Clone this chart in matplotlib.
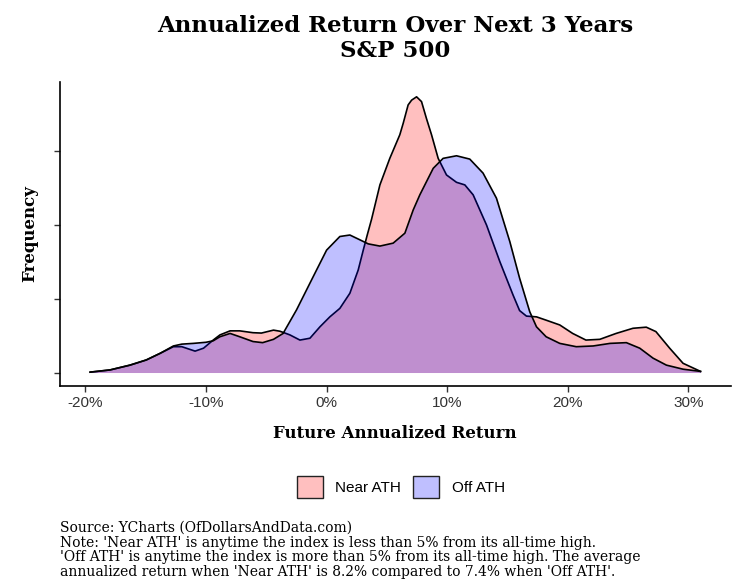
import matplotlib.pyplot as plt
from matplotlib.patches import Patch

# values (x in %, density; y ticks sit at 0, 2, 4, 6)
near_x = [-19.6, -17.95, -16.3, -14.95, -13.8, -12.7, -12.0, -10.9, -10.2, -9.4,
          -8.84, -8.0, -7.2, -6.1, -5.4, -4.4, -3.87, -3.45, -3.04, -2.21,
          -1.38, -0.55, 0.27, 1.1, 1.93, 2.62, 3.04, 3.37, 3.73, 4.42,
          5.24, 6.07, 6.35, 6.76, 7.05, 7.46, 7.87, 8.28, 8.7, 9.25,
          9.94, 10.77, 11.46, 12.15, 13.26, 14.36, 15.46, 16.0, 16.57, 17.0,
          17.4, 18.2, 19.33, 20.4, 21.5, 22.65, 24.0, 25.4, 26.5, 27.3,
          28.44, 29.55, 31.0]
near_y = [0.01, 0.07, 0.20, 0.34, 0.52, 0.70, 0.70, 0.58, 0.66, 0.88,
          1.02, 1.13, 1.13, 1.08, 1.07, 1.15, 1.12, 1.07, 1.02, 0.88,
          0.93, 1.24, 1.51, 1.74, 2.15, 2.78, 3.32, 3.73, 4.16, 5.09,
          5.81, 6.45, 6.76, 7.26, 7.39, 7.48, 7.35, 6.89, 6.45, 5.81,
          5.36, 5.16, 5.09, 4.82, 4.00, 3.01, 2.10, 1.68, 1.53, 1.52,
          1.51, 1.42, 1.29, 1.06, 0.88, 0.90, 1.06, 1.20, 1.23, 1.11,
          0.66, 0.25, 0.03]

off_x = [-19.6, -17.95, -16.3, -14.95, -13.8, -12.7, -12.0, -11.05, -10.0, -9.4,
         -8.84, -8.0, -7.2, -6.1, -5.3, -4.4, -3.6, -3.45, -2.49, -1.11,
         0.0, 1.1, 1.93, 2.76, 3.45, 4.42, 5.52, 6.49, 7.18, 7.73,
         8.84, 9.66, 10.77, 11.87, 12.97, 14.08, 15.19, 16.0, 16.84, 17.4,
         18.2, 19.33, 20.7, 22.1, 23.5, 24.85, 25.96, 27.06, 28.17, 29.55,
         31.0]
off_y = [0.01, 0.07, 0.20, 0.34, 0.52, 0.72, 0.77, 0.79, 0.82, 0.86,
         0.97, 1.06, 0.97, 0.84, 0.81, 0.90, 1.06, 1.15, 1.70, 2.60,
         3.32, 3.69, 3.73, 3.60, 3.49, 3.43, 3.51, 3.78, 4.41, 4.82,
         5.54, 5.81, 5.88, 5.79, 5.41, 4.73, 3.55, 2.56, 1.65, 1.24,
         0.97, 0.79, 0.70, 0.72, 0.79, 0.81, 0.66, 0.39, 0.20, 0.09,
         0.03]

x_ticks = [-20, -10, 0, 10, 20, 30]
x_labels = ["-20%", "-10%", "0%", "10%", "20%", "30%"]
y_ticks = [0, 2, 4, 6]

series = [("Near ATH", near_x, near_y, "red", (1, 0.75, 0.75)),
          ("Off ATH", off_x, off_y, "blue", (0.75, 0.75, 1))]

caption = ("Source: YCharts (OfDollarsAndData.com)\n"
           "Note: 'Near ATH' is anytime the index is less than 5% from its all-time high.\n"
           "'Off ATH' is anytime the index is more than 5% from its all-time high. The average\n"
           "annualized return when 'Near ATH' is 8.2% compared to 7.4% when 'Off ATH'.")

W, H = 755, 583
fig = plt.figure(figsize=(W / 100, H / 100), dpi=100)
ax = fig.add_axes([60 / W, 1 - 386 / H, (730.7 - 60) / W, (386 - 81.7) / H])

z = 1
for name, xs, ys, col, _ in series:
    ax.fill_between(xs, 0, ys, color=col, alpha=0.25, lw=0, zorder=z)
    ax.plot(xs, ys, color="black", lw=1.2, zorder=z + 0.5, solid_joinstyle="round")
    z += 1

ax.set_xlim(-22.1, 33.5)
ax.set_ylim(-0.366, 7.89)
ax.set_xticks(x_ticks)
ax.set_xticklabels(x_labels)
ax.set_yticks(y_ticks)
ax.set_yticklabels([])
ax.tick_params(length=4, width=1, colors="#333333", labelsize=11, pad=3)
for lab in ax.get_xticklabels():
    lab.set_family(["Liberation Sans", "DejaVu Sans"])
for s in ["top", "right"]:
    ax.spines[s].set_visible(False)
for s in ["left", "bottom"]:
    ax.spines[s].set_linewidth(1.2)

serif_b = dict(family="DejaVu Serif", weight="bold")
cx = 395 / W
fig.text(cx, 1 - 26 / H, "Annualized Return Over Next 3 Years", ha="center", va="center",
         fontsize=16.5, **serif_b)
fig.text(cx, 1 - 51 / H, "S&P 500", ha="center", va="center", fontsize=16.5, **serif_b)
fig.text(cx, 1 - 434 / H, "Future Annualized Return", ha="center", va="center",
         fontsize=12, **serif_b)
fig.text(30 / W, 1 - 234 / H, "Frequency", ha="center", va="center", rotation=90,
         fontsize=12, **serif_b)

handles = [Patch(facecolor=fc, edgecolor="#222222", lw=1) for *_, fc in series]
fig.legend(handles, [s[0] for s in series], loc="center", ncol=2,
           bbox_to_anchor=(401 / W, 1 - 487 / H), frameon=False,
           prop=dict(family="Liberation Sans", size=11),
           handlelength=1.7, handleheight=1.75, handletextpad=0.8, columnspacing=0.8)

fig.text(60 / W, 1 - 521 / H, caption, ha="left", va="top", fontsize=10,
         family="DejaVu Serif", linespacing=1.05)

fig.savefig("out.png", dpi=100)
